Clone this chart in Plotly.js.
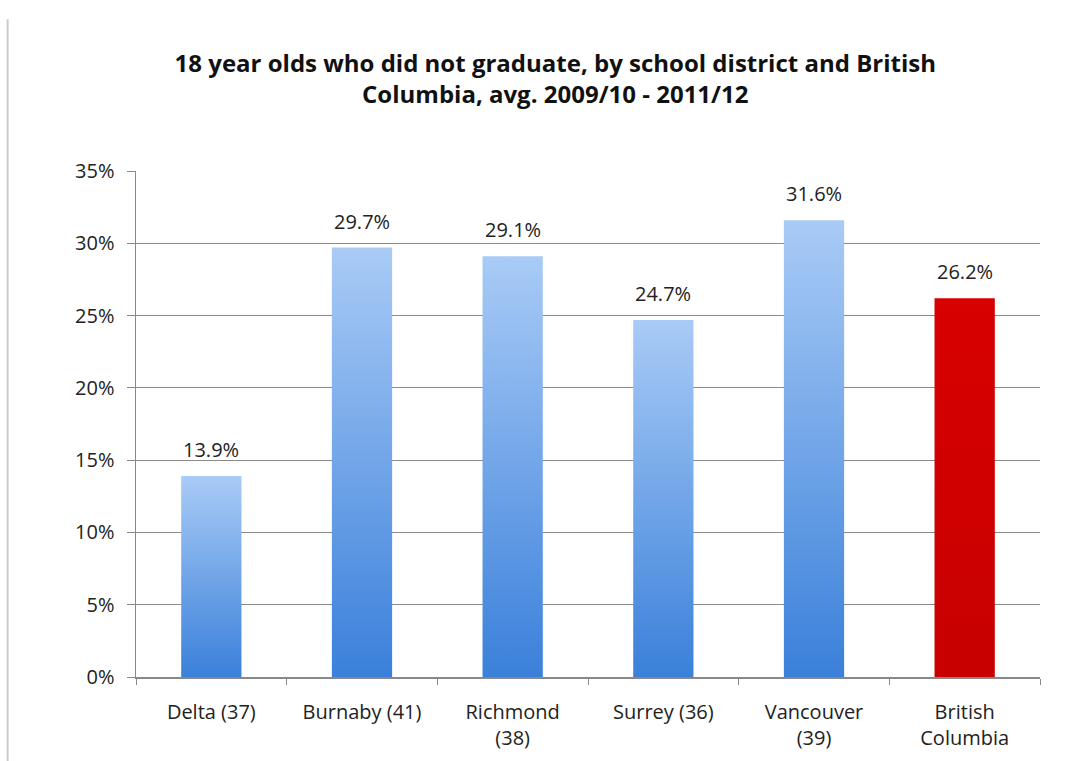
<!DOCTYPE html>
<html><head><meta charset="utf-8">
<script src="https://cdn.plot.ly/plotly-3.0.1.min.js"></script>
<style>html,body{margin:0;padding:0;background:#fff;}#chart{width:1074px;height:761px;}</style>
</head><body><div id="chart"></div>
<script>
const categories = ["Delta (37)", "Burnaby (41)", "Richmond<br>(38)", "Surrey (36)", "Vancouver<br>(39)", "British<br>Columbia"];
const values = [13.9, 29.7, 29.1, 24.7, 31.6, 26.2];
const barColors = ["#5b9be8", "#5b9be8", "#5b9be8", "#5b9be8", "#5b9be8", "#d40000"];
const tickVals = [0, 5, 10, 15, 20, 25, 30, 35];

const font = "Open Sans, Noto Sans, sans-serif";
const trace = {
  type: "bar",
  x: categories,
  y: values,
  marker: {color: barColors, line: {width: 0}},
  hoverinfo: "none"
};
const annotations = values.map((v, i) => ({
  x: categories[i], y: v, xref: "x", yref: "y", text: v.toFixed(1) + "%", showarrow: false,
  yanchor: "bottom", yshift: 11, font: {family: font, size: 20, color: "#222"}
}));
const layout = {
  width: 1074, height: 761,
  margin: {l: 136, r: 34, t: 171, b: 84},
  paper_bgcolor: "#fff", plot_bgcolor: "#fff",
  title: {text: "<b>18 year olds who did not graduate, by school district and British<br>Columbia, avg. 2009/10 - 2011/12</b>",
          font: {family: font, size: 24, color: "#111"}, x: 0.517, xref: "container", y: 0.905, yref: "container", yanchor: "middle"},
  bargap: 0.6,
  showlegend: false,
  annotations: annotations,
  xaxis: {showline: true, linecolor: "#888", linewidth: 1.5, ticks: "outside", ticklen: 6, tickcolor: "#888",
          tickson: "boundaries", ticklabelstandoff: 16, tickfont: {family: font, size: 20, color: "#222"}, showgrid: false},
  yaxis: {range: [0, 35], tickvals: tickVals, ticktext: tickVals.map(v => v + "%"), showline: true, linecolor: "#888", linewidth: 1.5,
          ticks: "outside", ticklen: 8, tickcolor: "#888", gridcolor: "#8a8a8a", gridwidth: 1.2, zeroline: false,
          ticklabelstandoff: 8, tickfont: {family: font, size: 20, color: "#222"}},
  shapes: [{type: "line", xref: "paper", yref: "paper", x0: -0.142, x1: -0.142, y0: -0.2, y1: 1.3, line: {color: "#cccccc", width: 2}}]
};
Plotly.newPlot("chart", [trace], layout, {staticPlot: true}).then(gd => {
  const svg = gd.querySelector("svg.main-svg");
  const ns = "http://www.w3.org/2000/svg";
  let defs = svg.querySelector("defs");
  function mk(id, c1, c2) {
    const g = document.createElementNS(ns, "linearGradient");
    g.setAttribute("id", id); g.setAttribute("x1", "0"); g.setAttribute("y1", "0"); g.setAttribute("x2", "0"); g.setAttribute("y2", "1");
    [[0, c1], [1, c2]].forEach(([o, c]) => { const s = document.createElementNS(ns, "stop"); s.setAttribute("offset", o); s.setAttribute("stop-color", c); g.appendChild(s); });
    defs.appendChild(g);
  }
  mk("gBlue", "#a9cbf6", "#3a80da");
  mk("gRed", "#d80000", "#c80000");
  gd.querySelectorAll(".bars .point path").forEach((p, i) => {
    p.style.fill = barColors[i] === "#d40000" ? "url(#gRed)" : "url(#gBlue)";
  });
});
</script></body></html>
